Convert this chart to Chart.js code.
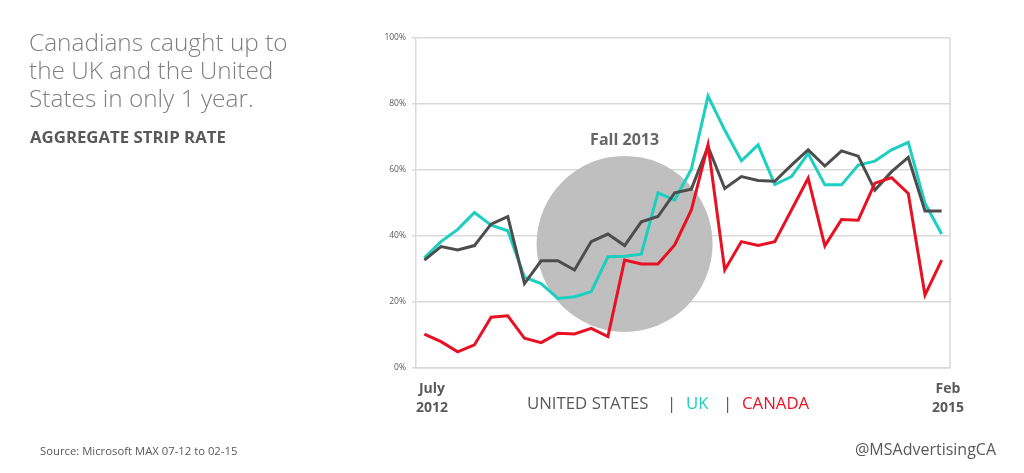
<!DOCTYPE html>
<html>
<head>
<meta charset="utf-8">
<script src="https://cdn.jsdelivr.net/npm/chart.js@4/dist/chart.umd.min.js"></script>
<style>
  html, body { margin:0; padding:0; background:#fff; }
  body { width:1024px; height:473px; position:relative; overflow:hidden; font-family:"Open Sans", sans-serif; }
  #wrap { position:absolute; left:0; top:0; width:1024px; height:473px; }
  .t { position:absolute; white-space:nowrap; }
  #title { left:29px; top:28px; font-size:24.4px; line-height:28px; font-weight:300; color:#7f7f7f; }
  #sub { left:30px; top:125px; font-size:16.8px; font-weight:700; color:#595959; }
  .date { font-size:14px; font-weight:700; color:#595959; text-align:center; line-height:19px; }
  .leg { top:391px; font-size:16.8px; color:#595959; }
  #src { left:40px; top:443px; font-size:11.3px; color:#595959; }
  #handle { left:855px; top:438px; font-size:16px; color:#595959; }
</style>
</head>
<body>
<div id="wrap"><canvas id="chart"></canvas></div>
<div class="t" id="title">Canadians caught up to<br>the UK and the United<br>States in only 1 year.</div>
<div class="t" id="sub">AGGREGATE STRIP RATE</div>
<div class="t date" style="left:409px; top:378px; width:46px;">July<br>2012</div>
<div class="t date" style="left:925px; top:378px; width:46px;">Feb<br>2015</div>
<div class="t leg" style="left:527px;">UNITED STATES</div>
<div class="t leg" style="left:667px;">|</div>
<div class="t leg" style="left:686px; color:#1ccfc1;">UK</div>
<div class="t leg" style="left:723px;">|</div>
<div class="t leg" style="left:742px; color:#e81123;">CANADA</div>
<div class="t" id="src">Source: Microsoft MAX 07-12 to 02-15</div>
<div class="t" id="handle">@MSAdvertisingCA</div>
<script>
// months, July 2012 - Feb 2015
const months = ['Jul-12','Aug-12','Sep-12','Oct-12','Nov-12','Dec-12',
  'Jan-13','Feb-13','Mar-13','Apr-13','May-13','Jun-13','Jul-13','Aug-13','Sep-13','Oct-13','Nov-13','Dec-13',
  'Jan-14','Feb-14','Mar-14','Apr-14','May-14','Jun-14','Jul-14','Aug-14','Sep-14','Oct-14','Nov-14','Dec-14',
  'Jan-15','Feb-15'];
const unitedStates = [32.7,36.8,35.8,37.1,43.6,45.9,25.6,32.5,32.5,29.7,38.3,40.6,37.1,44.3,45.9,53.1,
  54.2,67.1,54.4,58.0,56.8,56.6,61.5,66.1,61.2,65.8,64.2,53.9,59.5,63.8,47.6,47.6];
const uk = [33.4,38.3,42.0,47.1,43.3,41.6,27.5,25.6,21.1,21.6,23.1,33.7,33.9,34.5,53.1,50.9,
  60.2,82.4,72.1,62.8,67.6,55.6,58.0,65.0,55.5,55.5,61.5,62.7,66.1,68.4,49.9,40.6];
const canada = [10.3,8.0,4.9,7.0,15.4,15.8,9.0,7.7,10.5,10.3,12.0,9.5,32.7,31.5,31.5,37.3,
  47.9,67.6,29.7,38.3,37.1,38.3,47.9,57.5,37.0,45.0,44.8,56.0,57.7,52.9,22.1,32.7];
const yTicks = [0,20,40,60,80,100];

// highlight bubble around Fall 2013
const fall = { label:'Fall 2013', month:'Jul-13', value:37.6, radius:88 };

const fallPlugin = {
  id:'fall',
  beforeDatasetsDraw(chart) {
    const {ctx, scales:{x, y}} = chart;
    const cx = x.getPixelForValue(months.indexOf(fall.month));
    const cy = y.getPixelForValue(fall.value);
    ctx.save();
    ctx.fillStyle = '#bfbfbf';
    ctx.beginPath();
    ctx.arc(cx, cy, fall.radius, 0, Math.PI*2);
    ctx.fill();
    ctx.fillStyle = '#666666';
    ctx.font = 'bold 16px "Open Sans", sans-serif';
    ctx.textAlign = 'center';
    ctx.textBaseline = 'middle';
    ctx.fillText(fall.label, cx, cy - fall.radius - 15);
    ctx.restore();
  },
  afterDraw(chart) {
    // right edge of the plot frame
    const {ctx, chartArea:a} = chart;
    ctx.save();
    ctx.strokeStyle = '#d9d9d9';
    ctx.lineWidth = 1.5;
    ctx.beginPath();
    ctx.moveTo(a.right, a.top);
    ctx.lineTo(a.right, a.bottom);
    ctx.stroke();
    ctx.restore();
  }
};

new Chart(document.getElementById('chart'), {
  type:'line',
  data:{
    labels:months,
    datasets:[
      {label:'UK', data:uk, borderColor:'#1ccfc1', order:3},
      {label:'UNITED STATES', data:unitedStates, borderColor:'#4d4d4d', order:2},
      {label:'CANADA', data:canada, borderColor:'#e81123', order:1}
    ]
  },
  options:{
    responsive:true, maintainAspectRatio:false, animation:false,
    layout:{padding:{left:366, right:74, top:38, bottom:105}},
    elements:{line:{borderWidth:3, tension:0}, point:{radius:0}},
    plugins:{legend:{display:false}, tooltip:{enabled:false}},
    scales:{
      x:{
        offset:true,
        grid:{display:false},
        border:{display:true, color:'#d9d9d9', width:1.5},
        ticks:{display:false},
        afterFit(s){ s.height = 0; }
      },
      y:{
        min:0, max:100,
        afterBuildTicks(s){ s.ticks = yTicks.map(v => ({value:v})); },
        grid:{color:'#d9d9d9', lineWidth:1.5, tickLength:4},
        border:{display:true, color:'#d9d9d9', width:1.5},
        ticks:{callback:v => v + '%', color:'#595959', font:{size:8.5, family:'"Open Sans", sans-serif'}, padding:6},
        afterFit(s){ s.width = 50; }
      }
    }
  },
  plugins:[fallPlugin]
});
</script>
</body>
</html>
